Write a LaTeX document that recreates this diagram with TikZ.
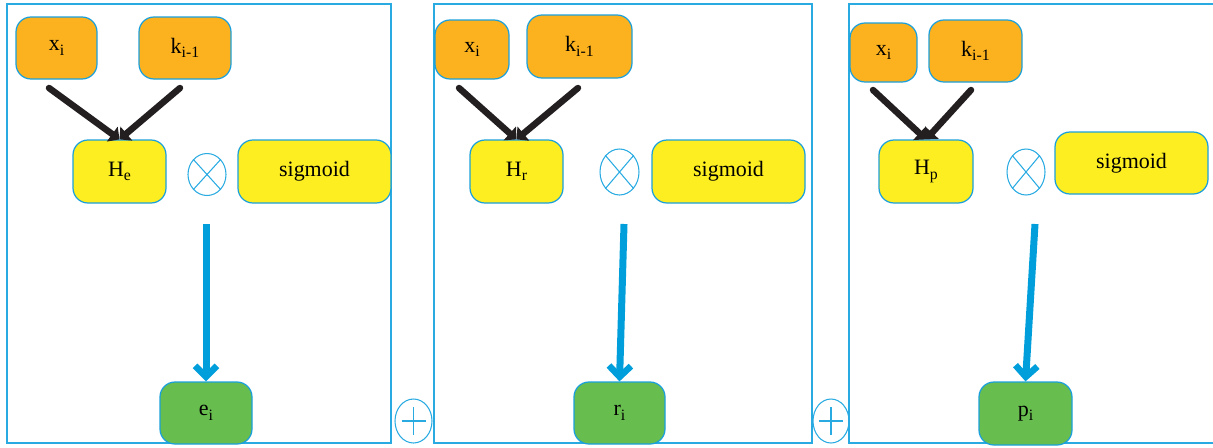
\documentclass[tikz,border=0pt]{standalone}
\usepackage{fontspec}
\setmainfont{Liberation Serif}
\usetikzlibrary{arrows.meta,shapes.geometric,calc}
\definecolor{orangeF}{HTML}{FBB21E}
\definecolor{yellowF}{HTML}{FCEE21}
\definecolor{greenF}{HTML}{68BD4F}
\definecolor{edgeB}{HTML}{1BA0DC}
\definecolor{arrowB}{HTML}{009EDB}
\definecolor{frameB}{HTML}{29ABE2}
\definecolor{darkA}{HTML}{231F20}
\newcommand\lowsub[1]{\raisebox{-0.45ex}{\fontsize{9}{10}\selectfont #1}}
\tikzset{
  px/.style 2 args={minimum width=#1*0.02cm, minimum height=#2*0.02cm},
  box/.style={rounded corners=0.3cm, draw=edgeB, line width=0.7pt, inner sep=0pt,
              font=\fontsize{12.5}{14}\selectfont, text=black},
  inbox/.style={box, fill=orangeF},
  hbox/.style={box, fill=yellowF},
  outbox/.style={box, fill=greenF},
  frame/.style={draw=frameB, line width=0.8pt},
  opcirc/.style={ellipse, draw=frameB, line width=0.6pt, inner sep=0pt},
  opline/.style={draw=frameB, line width=0.6pt},
  blackarrow/.style={draw=darkA, line width=0.13cm, line cap=round,
                     -{Triangle[length=0.18cm,width=0.36cm]}},
  bluearrow/.style={draw=arrowB, line width=0.14cm,
                    -{Straight Barb[length=0.22cm,width=0.44cm,line width=0.13cm]}},
}
\begin{document}
\begin{tikzpicture}[x=0.02cm,y=-0.02cm]
\useasboundingbox (0,0) rectangle (1213,447);
% frames
\draw[frame] (7,4) rectangle (391,443);
\draw[frame] (434,4) rectangle (812,443);
\draw[frame] (849,4) rectangle (1230,443);

% ---------- panel 1 ----------
\node[inbox, px={81}{62}] (x1) at (56.5,48) {x\lowsub{i}};
\node[inbox, px={92}{62}] (k1) at (185,48) {k\lowsub{i-1}};
\node[hbox, px={93}{63}] (h1) at (119.5,171.5) {H\lowsub{e}};
\node[opcirc, px={38}{42}] (o1) at (207,174.5) {};
\draw[opline] (o1.north east) -- (o1.south west) (o1.north west) -- (o1.south east);
\node[hbox, px={153}{63}] (s1) at (314.5,171.5) {sigmoid};
\node[outbox, px={92}{62}] (e1) at (206,413) {e\lowsub{i}};
\coordinate (a1) at (49,88);
\coordinate (b1) at (180,88);
\coordinate (c1) at (206,224);
\draw[blackarrow] (a1) -- (h1.north);
\draw[blackarrow] (b1) -- (h1.north);
\draw[bluearrow] (c1) -- (e1.north);

% plus 1
\node[opcirc, px={37}{44}] (p1) at (413.5,421) {};
\draw[opline] ($(p1.center)+(0,-14)$) -- ($(p1.center)+(0,14)$)
              ($(p1.center)+(-12,0)$) -- ($(p1.center)+(12,0)$);

% ---------- panel 2 ----------
\node[inbox, px={74}{59}] (x2) at (472,49.5) {x\lowsub{i}};
\node[inbox, px={105}{63}] (k2) at (579.5,46.5) {k\lowsub{i-1}};
\node[hbox, px={93}{63}] (h2) at (516.5,171.5) {H\lowsub{r}};
\node[opcirc, px={39}{46}] (o2) at (619.5,172) {};
\draw[opline] (o2.north east) -- (o2.south west) (o2.north west) -- (o2.south east);
\node[hbox, px={153}{63}] (s2) at (728.5,171.5) {sigmoid};
\node[outbox, px={91}{62}] (r2) at (619.5,413) {r\lowsub{i}};
\coordinate (a2) at (459,88);
\coordinate (b2) at (578,88);
\coordinate (c2) at (624,224);
\draw[blackarrow] (a2) -- (h2.north);
\draw[blackarrow] (b2) -- (h2.north);
\draw[bluearrow] (c2) -- (r2.north);

% plus 2
\node[opcirc, px={36}{44}] (p2) at (831,421) {};
\draw[opline] ($(p2.center)+(0,-14)$) -- ($(p2.center)+(0,14)$)
              ($(p2.center)+(-12,0)$) -- ($(p2.center)+(12,0)$);

% ---------- panel 3 ----------
\node[inbox, px={67}{59}] (x3) at (883.5,52.5) {x\lowsub{i}};
\node[inbox, px={93}{62}] (k3) at (975.5,51) {k\lowsub{i-1}};
\node[hbox, px={94}{63}] (h3) at (926,171.5) {H\lowsub{p}};
\node[opcirc, px={38}{46}] (o3) at (1026,172) {};
\draw[opline] (o3.north east) -- (o3.south west) (o3.north west) -- (o3.south east);
\node[hbox, px={153}{62}] (s3) at (1131.5,163) {sigmoid};
\node[outbox, px={93}{63}] (q3) at (1025.5,413.5) {p\lowsub{i}};
\coordinate (a3) at (873,90);
\coordinate (b3) at (971,90);
\coordinate (c3) at (1035,224);
\draw[blackarrow] (a3) -- (h3.north);
\draw[blackarrow] (b3) -- (h3.north);
\draw[bluearrow] (c3) -- (q3.north);
\end{tikzpicture}
\end{document}
